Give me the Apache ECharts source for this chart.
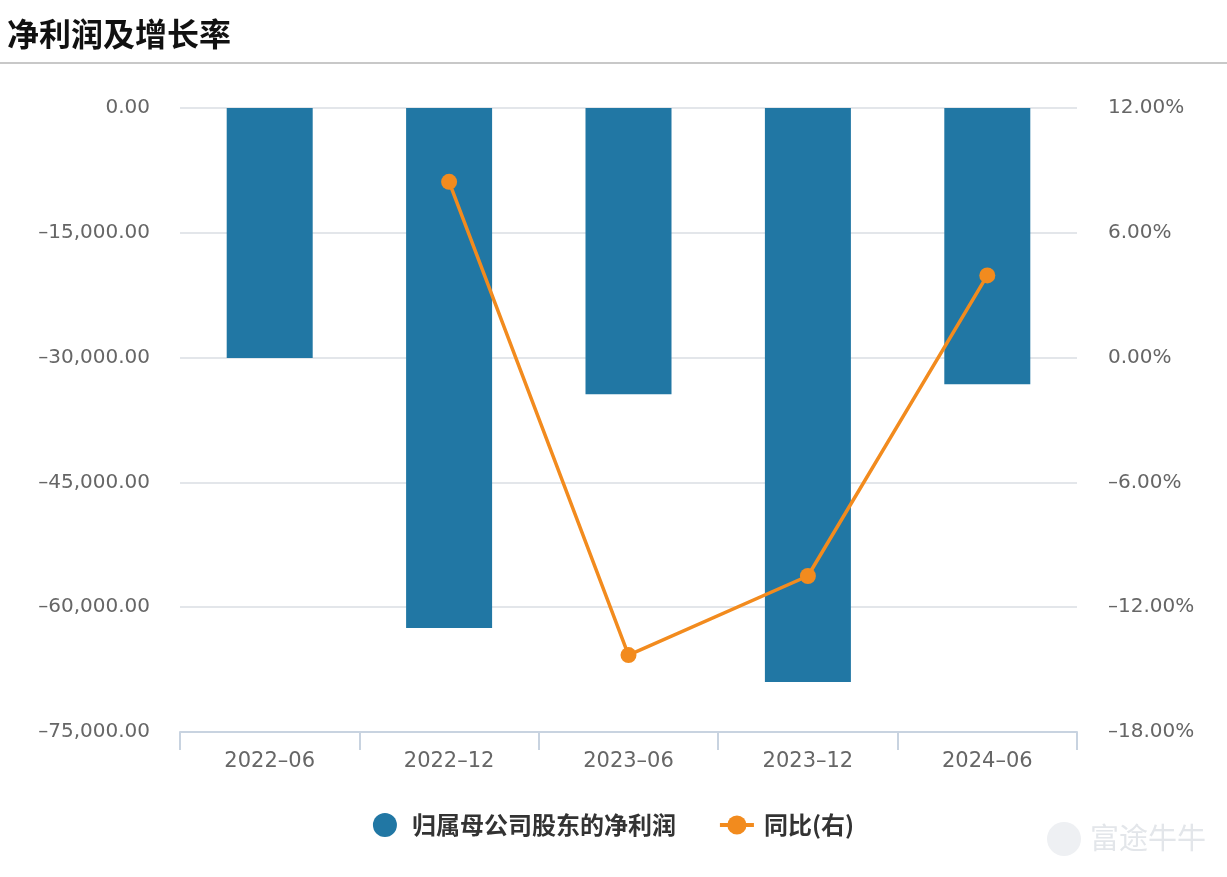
<!DOCTYPE html>
<html>
<head>
<meta charset="utf-8">
<script src="https://cdn.jsdelivr.net/npm/echarts@6/dist/echarts.min.js"></script>
<style>
  html, body { margin: 0; padding: 0; background: #fff; }
  .title {
    position: absolute; left: 7px; top: 9px;
    font-family: "Noto Sans CJK SC", sans-serif;
    font-size: 32px; font-weight: bold; color: #111;
  }
  .divider { position: absolute; left: 0; right: 0; top: 62px; height: 2px; background: #c8c8c8; }
  #chart { position: absolute; left: 0; top: 0; width: 1227px; height: 877px; }
</style>
</head>
<body>
<div id="chart"></div>
<div class="title">净利润及增长率</div>
<div class="divider"></div>
<script>
// 数据
const categories = ['2022-06', '2022-12', '2023-06', '2023-12', '2024-06'];
const netProfit = [-30050, -62500, -34400, -69000, -33200];
const yoyRate = [null, 8.45, -14.3, -10.5, 3.95];

const chart = echarts.init(document.getElementById('chart'));

const axisFont = '"DejaVu Sans", sans-serif';
const labelColor = '#666';

chart.setOption({
  backgroundColor: '#fff',
  animation: false,
  grid: { left: 180, right: 150, top: 108, bottom: 145 },
  legend: {
    top: 808,
    left: 'center',
    itemGap: 42,
    itemWidth: 34,
    itemHeight: 24,
    textStyle: {
      color: '#333', fontSize: 24, fontWeight: 'bold',
      fontFamily: '"Noto Sans CJK SC", sans-serif',
      padding: [0, 0, 0, 5]
    },
    data: [
      { name: '归属母公司股东的净利润', icon: 'circle' },
      { name: '同比(右)', itemStyle: { color: '#f28b1e' }, lineStyle: { width: 4 } }
    ]
  },
  xAxis: {
    type: 'category',
    data: categories,
    axisLine: { onZero: false, lineStyle: { color: '#c8d3e0', width: 2 } },
    axisTick: { show: true, length: 18, lineStyle: { color: '#c8d3e0', width: 2 } },
    axisLabel: {
      color: labelColor, fontSize: 21, fontFamily: axisFont, margin: 19,
      formatter: v => v.replace('-', '–')
    }
  },
  yAxis: [
    {
      type: 'value',
      min: -75000, max: 0, interval: 15000,
      axisLine: { show: false },
      axisTick: { show: false },
      splitLine: { lineStyle: { color: '#e3e6ea', width: 2 } },
      axisLabel: {
        color: labelColor, fontSize: 20, fontFamily: axisFont, margin: 30,
        padding: [3, 0, 0, 0],
        formatter: v => v.toLocaleString('en-US', { minimumFractionDigits: 2, maximumFractionDigits: 2 }).replace('-', '–')
      }
    },
    {
      type: 'value',
      min: -18, max: 12, interval: 6,
      axisLine: { show: false },
      axisTick: { show: false },
      splitLine: { show: false },
      axisLabel: {
        color: labelColor, fontSize: 20, fontFamily: axisFont, margin: 31,
        padding: [3, 0, 0, 0],
        formatter: v => v.toFixed(2).replace('-', '–') + '%'
      }
    }
  ],
  series: [
    {
      name: '归属母公司股东的净利润',
      type: 'bar',
      data: netProfit,
      barWidth: 86,
      itemStyle: { color: '#2177a4' }
    },
    {
      name: '同比(右)',
      type: 'line',
      yAxisIndex: 1,
      data: yoyRate,
      symbol: 'circle',
      symbolSize: 16,
      lineStyle: { color: '#f28b1e', width: 3.5 },
      itemStyle: { color: '#f28b1e' }
    }
  ],
  graphic: [
    {
      type: 'circle', left: 1047, top: 822, shape: { r: 17 },
      style: { fill: '#eef0f3' }
    },
    {
      type: 'text', left: 1090, top: 823,
      style: {
        text: '富途牛牛', fill: '#e3e6ea', fontSize: 29,
        fontFamily: '"Noto Sans CJK SC", sans-serif'
      }
    }
  ]
});
</script>
</body>
</html>
